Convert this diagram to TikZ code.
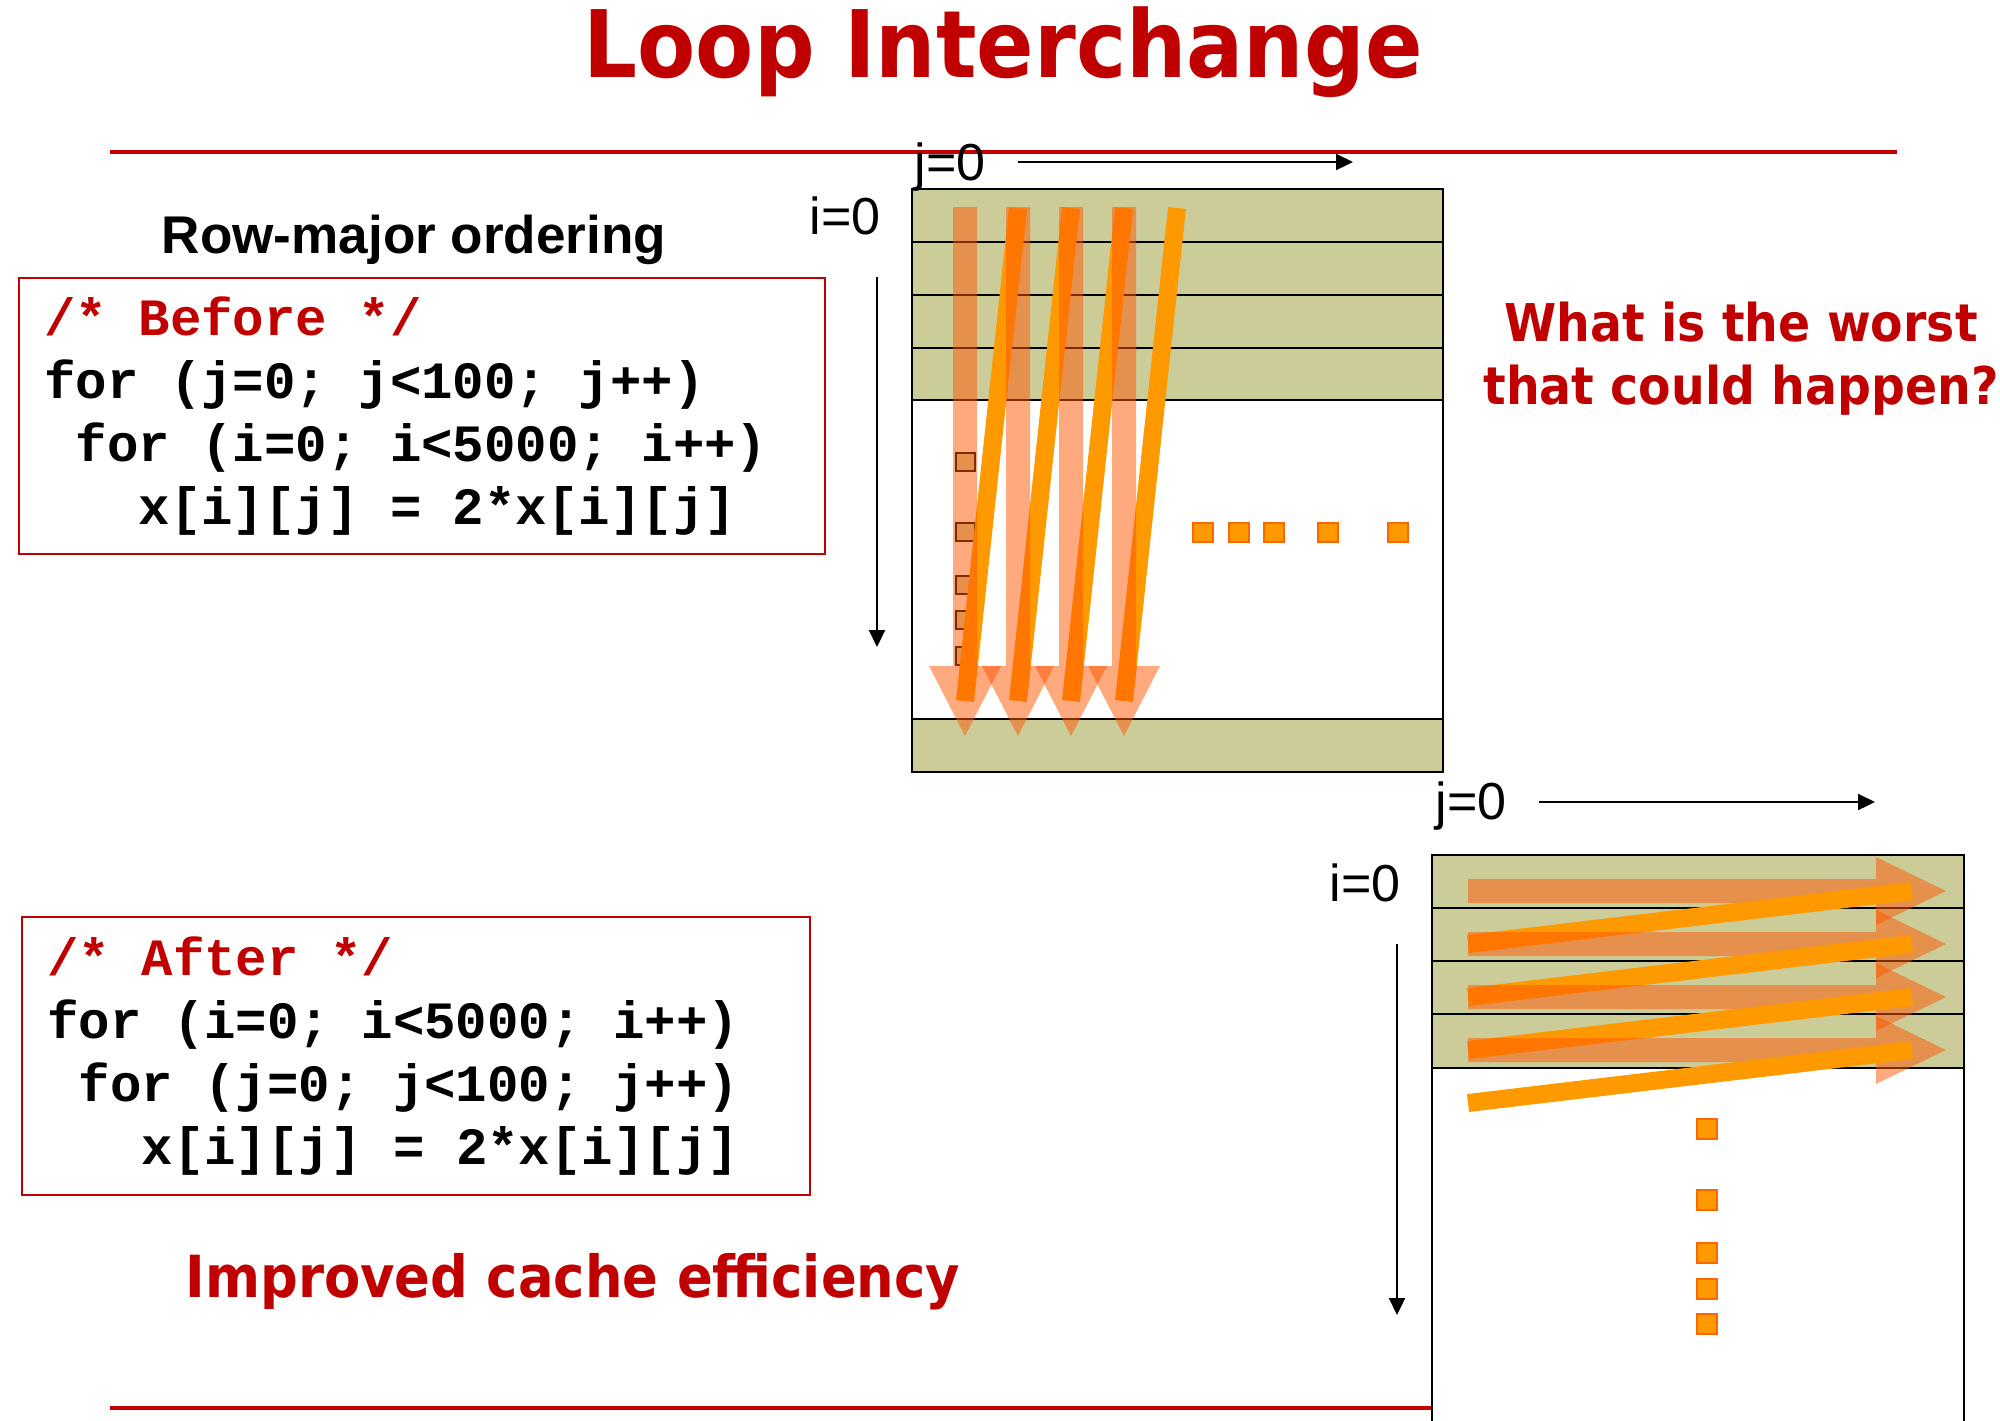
\documentclass[tikz,border=0pt]{standalone}
\usepackage{fontspec}
\setmainfont{Liberation Sans}
\newfontfamily\codefont{Liberation Mono}
\newfontfamily\headfont[FakeStretch=0.91]{DejaVu Sans}
\usetikzlibrary{shapes,arrows.meta,positioning,calc}
\definecolor{slidered}{HTML}{C00000}
\definecolor{rowgreen}{HTML}{CCCC99}
\definecolor{streakc}{HTML}{FF9900}
\definecolor{sweepc}{HTML}{FF5500}
\definecolor{celledge}{HTML}{FF6600}
\newcommand{\codegap}{\hphantom{x}}

\begin{document}
\begin{tikzpicture}[x=0.01cm, y=-0.01cm, >={Triangle[length=0.17cm,width=0.16cm]}]
        % Styles
        \tikzstyle{headline} = [text=slidered, font=\headfont\bfseries\fontsize{26.5}{32}\selectfont, anchor=base, inner sep=0pt]
        \tikzstyle{question} = [text=slidered, font=\headfont\bfseries\fontsize{14.8}{17.9}\selectfont, align=center, inner sep=0pt]
        \tikzstyle{verdict} = [text=slidered, font=\headfont\bfseries\fontsize{16.5}{20}\selectfont, anchor=base, inner sep=0pt]
        \tikzstyle{rowcaption} = [font=\bfseries\fontsize{15.1}{18}\selectfont, anchor=base, inner sep=0pt]
        \tikzstyle{idxlabel} = [font=\fontsize{14.8}{18}\selectfont, anchor=base, inner sep=0pt]
        \tikzstyle{codebox} = [draw=slidered, line width=0.6pt, font=\codefont\bfseries\fontsize{14.9}{17.9}\selectfont, align=left, inner xsep=0.25cm, inner ysep=0pt]
        \tikzstyle{rule} = [draw=slidered, line width=0.4mm]
        \tikzstyle{grid} = [draw=black, line width=0.7pt]
        \tikzstyle{axis} = [draw, ->, line width=0.6pt]
        \tikzstyle{streak} = [draw=streakc, line width=1.8mm]
        \tikzstyle{sweep} = [fill=sweepc, fill opacity=0.5]
        \tikzstyle{cell} = [fill=streakc, draw=celledge, line width=0.5pt]
        \tikzstyle{elem} = [fill=rowgreen, draw=black, line width=0.8pt]

        \path [use as bounding box, clip] (0,0) rectangle (2000,1420);

        % Rules
        \path [rule] (110,152) -- (1897,152);
        \path [rule] (110,1408) -- (1432,1408);

        % Column-wise matrix
        \fill [white] (912,189) rectangle (1443,772);
        \fill [rowgreen] (912,189) rectangle (1443,400);
        \fill [rowgreen] (912,719) rectangle (1443,772);
        \foreach \ry in {242,295,348,400,719}
            \path [grid] (912,\ry) -- (1443,\ry);
        \path [grid] (912,189) rectangle (1443,772);
        \foreach \ry in {462,532,585,620,656}
            \path [elem] (956,{\ry-9}) rectangle ++(19,18);
        \foreach \cx in {965,1018,1071,1124}
            \path [streak] (\cx,701) -- ({\cx+53},208);
        \foreach \cx in {965,1018,1071,1124}
            \fill [sweep] ({\cx-12},207) -- ({\cx+12},207) -- ({\cx+12},666) -- ({\cx+36},666)
                -- (\cx,736) -- ({\cx-36},666) -- ({\cx-12},666) -- cycle;
        \foreach \cx in {1203,1239,1274,1328,1398}
            \path [cell] ({\cx-10},523) rectangle ++(20,19);

        % Row-wise matrix
        \fill [white] (1432,855) rectangle (1964,1430);
        \fill [rowgreen] (1432,855) rectangle (1964,1068);
        \foreach \ry in {908,961,1014,1068}
            \path [grid] (1432,\ry) -- (1964,\ry);
        \path [grid] (1432,1430) -- (1432,855) -- (1964,855) -- (1964,1430);
        \foreach \ry [evaluate=\ry as \rn using \ry+53] in {891,944,997,1050} {
            \fill [sweep] (1468,{\ry-12}) -- (1876,{\ry-12}) -- (1876,{\ry-34}) -- (1946,\ry)
                -- (1876,{\ry+34}) -- (1876,{\ry+12}) -- (1468,{\ry+12}) -- cycle;
            \path [streak] (1468,\rn) -- (1912,\ry);
        }
        \foreach \ry in {1129,1200,1253,1289,1324}
            \path [cell] (1697,{\ry-10}) rectangle ++(20,20);

        % Nodes
        \node [headline] (title) at (1003,77) {Loop Interchange};
        \node [rowcaption] (rowmajor) at (414,253) {Row-major ordering};
        \node [codebox, text width=7.55cm, minimum height=2.76cm] (before) at (422,416)
            {{\color{slidered}/*\codegap Before\codegap */}\\
             for\codegap(j=0;\codegap j<100;\codegap j++)\\
             \codegap for\codegap(i=0;\codegap i<5000;\codegap i++)\\
             \codegap\codegap\codegap x[i][j]\codegap=\codegap 2*x[i][j]};
        \node [codebox, text width=7.37cm, minimum height=2.77cm] (after) at (416,1056)
            {{\color{slidered}/*\codegap After\codegap */}\\
             for\codegap(i=0;\codegap i<5000;\codegap i++)\\
             \codegap for\codegap(j=0;\codegap j<100;\codegap j++)\\
             \codegap\codegap\codegap x[i][j]\codegap=\codegap 2*x[i][j]};
        \node [question] (worst) at (1741,359) {What is the worst\\that could happen?};
        \node [verdict] (improved) at (573,1297) {Improved cache efficiency};
        \node [idxlabel] (jtop) at (950,180) {j=0};
        \node [idxlabel] (itop) at (845,234) {i=0};
        \node [idxlabel] (jbot) at (1471,819) {j=0};
        \node [idxlabel] (ibot) at (1365,901) {i=0};

        % Edges
        \coordinate (jtopfrom) at (1018,162);
        \coordinate (jtopto) at (1353,162);
        \coordinate (itopfrom) at (877,277);
        \coordinate (itopto) at (877,647);
        \coordinate (jbotfrom) at (1539,802);
        \coordinate (jbotto) at (1875,802);
        \coordinate (ibotfrom) at (1397,944);
        \coordinate (ibotto) at (1397,1315);
        \path [axis] (jtopfrom) -- (jtopto);
        \path [axis] (itopfrom) -- (itopto);
        \path [axis] (jbotfrom) -- (jbotto);
        \path [axis] (ibotfrom) -- (ibotto);

    \end{tikzpicture}
\end{document}
